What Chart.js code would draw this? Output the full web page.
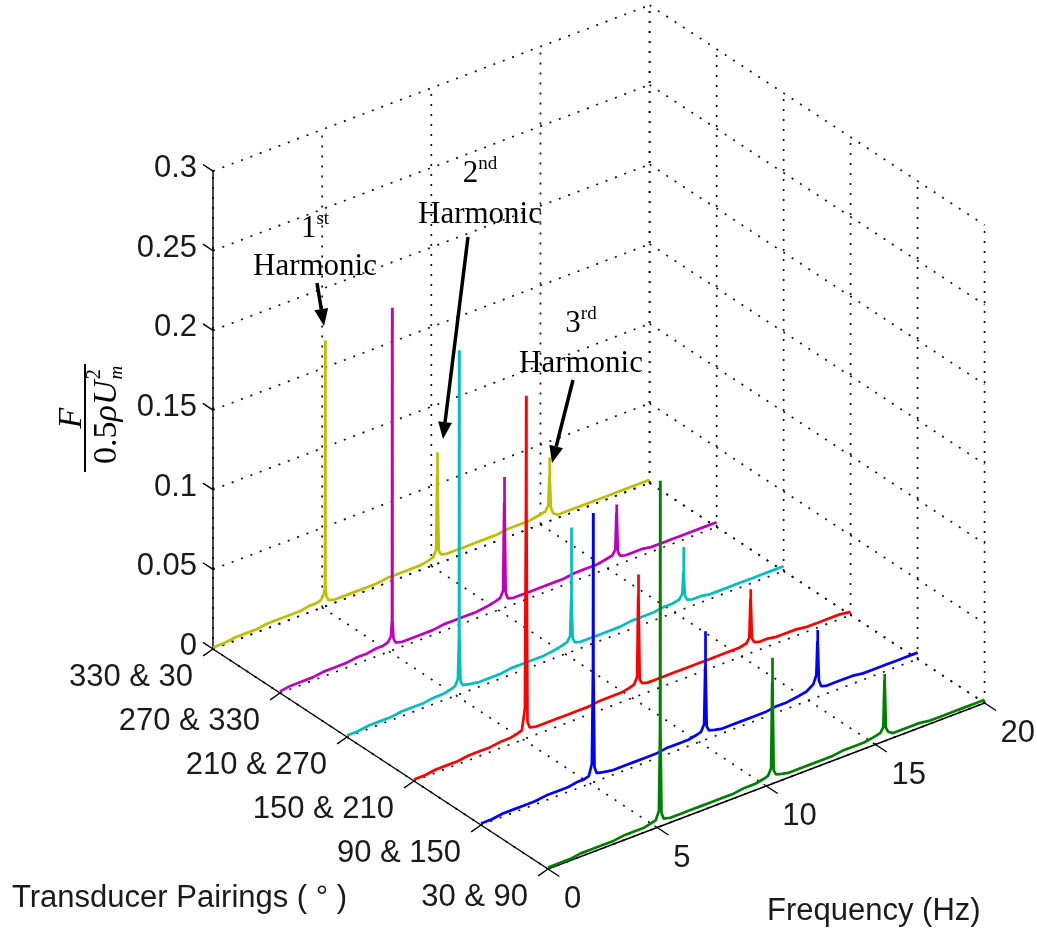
<!DOCTYPE html>
<html lang="en">
<head>
<meta charset="UTF-8">
<title>Force spectra by transducer pairing</title>
<script src="https://cdn.jsdelivr.net/npm/chart.js"></script>
<style>
  html, body { margin: 0; padding: 0; background: #fff; }
  #wrap { width: 1037px; height: 932px; }
</style>
</head>
<body>
<div id="wrap"><canvas id="spectra" width="1037" height="932"></canvas></div>
<script>
// shared frequency samples (Hz), denser around the three harmonics
const freqHz = [0, 0.5, 1, 1.5, 2, 2.5, 3, 3.5, 4, 4.4, 4.7,
  4.94, 5.08, 5.13, 5.14, 5.15, 5.2, 5.3,
  5.6, 6, 6.5, 7, 7.5, 8, 8.5, 9, 9.5, 9.85,
  10.08, 10.22, 10.27, 10.28, 10.29, 10.34, 10.44,
  10.7, 11, 11.5, 12, 12.5, 13, 13.5, 14, 14.5, 14.9,
  15.22, 15.36, 15.41, 15.42, 15.43, 15.48, 15.58,
  15.8, 16.2, 16.6, 17, 17.5, 18, 18.5, 19, 19.5, 20];

// back row first, front row last
const pairings = ['330 & 30', '270 & 330', '210 & 270', '150 & 210', '90 & 150', '30 & 90'];
const pairColors = ['#bfbf00', '#bf00bf', '#00bfbf', '#ff0000', '#0000ff', '#008000'];

// F / (0.5 rho Um^2), one value per freqHz sample
const force330_30 = [0.001, 0.001, 0.002, 0.002, 0.002, 0.003, 0.003, 0.003, 0.003, 0.004, 0.004,
  0.005, 0.008, 0.012, 0.167, 0.012, 0.006, 0.003,
  0.002, 0.002, 0.002, 0.002, 0.002, 0.003, 0.003, 0.003, 0.003, 0.004,
  0.005, 0.009, 0.056, 0.070, 0.056, 0.008, 0.005,
  0.004, 0.004, 0.004, 0.004, 0.004, 0.004, 0.005, 0.005, 0.005, 0.006,
  0.007, 0.010, 0.028, 0.040, 0.028, 0.008, 0.004,
  0.002, 0.002, 0.002, 0.002, 0.002, 0.002, 0.002, 0.002, 0.002, 0.002];
const force270_330 = [0.001, 0.002, 0.002, 0.002, 0.003, 0.003, 0.003, 0.004, 0.004, 0.005, 0.005,
  0.006, 0.009, 0.019, 0.215, 0.019, 0.007, 0.004,
  0.003, 0.003, 0.003, 0.003, 0.004, 0.004, 0.004, 0.004, 0.005, 0.006,
  0.007, 0.011, 0.066, 0.082, 0.066, 0.009, 0.005,
  0.004, 0.004, 0.004, 0.004, 0.004, 0.004, 0.005, 0.005, 0.005, 0.006,
  0.007, 0.010, 0.033, 0.038, 0.033, 0.008, 0.005,
  0.004, 0.004, 0.004, 0.003, 0.003, 0.003, 0.003, 0.003, 0.003, 0.003];
const force210_270 = [0.001, 0.001, 0.002, 0.002, 0.002, 0.003, 0.003, 0.003, 0.004, 0.004, 0.005,
  0.006, 0.010, 0.037, 0.216, 0.037, 0.008, 0.005,
  0.004, 0.003, 0.003, 0.003, 0.004, 0.004, 0.004, 0.004, 0.005, 0.006,
  0.007, 0.010, 0.033, 0.078, 0.033, 0.008, 0.005,
  0.004, 0.004, 0.004, 0.004, 0.004, 0.005, 0.005, 0.005, 0.006, 0.006,
  0.007, 0.010, 0.023, 0.039, 0.023, 0.008, 0.005,
  0.004, 0.004, 0.003, 0.003, 0.003, 0.003, 0.003, 0.003, 0.003, 0.003];
const force150_210 = [0.001, 0.001, 0.002, 0.002, 0.002, 0.003, 0.003, 0.003, 0.004, 0.004, 0.005,
  0.006, 0.019, 0.148, 0.215, 0.148, 0.010, 0.006,
  0.005, 0.005, 0.005, 0.005, 0.005, 0.005, 0.006, 0.006, 0.006, 0.007,
  0.008, 0.012, 0.063, 0.076, 0.063, 0.010, 0.007,
  0.006, 0.006, 0.006, 0.006, 0.006, 0.006, 0.006, 0.006, 0.006, 0.006,
  0.007, 0.010, 0.034, 0.040, 0.034, 0.009, 0.006,
  0.005, 0.005, 0.004, 0.004, 0.004, 0.003, 0.003, 0.003, 0.003, 0.002];
const force90_150 = [0.001, 0.001, 0.002, 0.002, 0.002, 0.002, 0.003, 0.003, 0.003, 0.004, 0.004,
  0.005, 0.012, 0.072, 0.169, 0.072, 0.009, 0.005,
  0.004, 0.003, 0.003, 0.003, 0.003, 0.003, 0.004, 0.004, 0.004, 0.005,
  0.006, 0.010, 0.046, 0.068, 0.046, 0.008, 0.005,
  0.004, 0.003, 0.003, 0.003, 0.003, 0.003, 0.004, 0.004, 0.005, 0.006,
  0.009, 0.014, 0.035, 0.042, 0.035, 0.010, 0.006,
  0.005, 0.005, 0.005, 0.005, 0.004, 0.004, 0.004, 0.004, 0.004, 0.004];
const force30_90 = [0.001, 0.001, 0.001, 0.002, 0.002, 0.002, 0.002, 0.003, 0.003, 0.003, 0.004,
  0.005, 0.010, 0.060, 0.217, 0.060, 0.008, 0.004,
  0.003, 0.003, 0.003, 0.003, 0.003, 0.003, 0.003, 0.004, 0.004, 0.005,
  0.006, 0.010, 0.064, 0.079, 0.064, 0.008, 0.005,
  0.004, 0.003, 0.003, 0.003, 0.003, 0.003, 0.004, 0.004, 0.004, 0.005,
  0.006, 0.009, 0.038, 0.042, 0.038, 0.008, 0.005,
  0.003, 0.003, 0.003, 0.003, 0.002, 0.002, 0.002, 0.002, 0.002, 0.002];
const forceByPair = [force330_30, force270_330, force210_270, force150_210, force90_150, force30_90];

const freqTicks = [0, 5, 10, 15, 20];
const forceTicks = [0, 0.05, 0.1, 0.15, 0.2, 0.25, 0.3];
const forceTickLabels = ['0', '0.05', '0.1', '0.15', '0.2', '0.25', '0.3'];

const fMax = 20, zMax = 0.3, pMax = pairings.length - 1;

// oblique 3D view: (frequency, pairing index, force) -> scale values
const view = { ox: 213, oy: 649, fx: 21.83, fy: -8.3, px: 67, py: 44, zy: -1593 };
function project(f, p, z) {
  return {
    x: view.ox + f * view.fx + p * view.px,
    y: view.oy + f * view.fy + p * view.py + z * view.zy
  };
}

const datasets = pairings.map((name, p) => ({
  label: name,
  data: freqHz.map((f, i) => project(f, p, forceByPair[p][i])),
  borderColor: pairColors[p],
  borderWidth: 2.7,
  borderJoinStyle: 'bevel',
  pointRadius: 0,
  showLine: true,
  tension: 0,
  fill: false,
  order: pMax - p
}));

function px(chart, f, p, z) {
  const q = project(f, p, z);
  return [chart.scales.x.getPixelForValue(q.x), chart.scales.y.getPixelForValue(q.y)];
}
function seg(chart, a, b) {
  const ctx = chart.ctx;
  const s = px(chart, a[0], a[1], a[2]), e = px(chart, b[0], b[1], b[2]);
  ctx.beginPath(); ctx.moveTo(s[0], s[1]); ctx.lineTo(e[0], e[1]); ctx.stroke();
}

const boxPlugin = {
  id: 'box3d',
  beforeDatasetsDraw(chart) {
    const ctx = chart.ctx;
    ctx.save();
    // dotted grid on back wall, right wall and floor
    ctx.strokeStyle = '#111';
    ctx.lineWidth = 1.7;
    ctx.setLineDash([2, 8]);
    forceTicks.forEach(z => seg(chart, [0, 0, z], [fMax, 0, z]));
    freqTicks.forEach(f => seg(chart, [f, 0, 0], [f, 0, zMax]));
    forceTicks.forEach(z => seg(chart, [fMax, 0, z], [fMax, pMax, z]));
    pairings.forEach((_, p) => seg(chart, [fMax, p, 0], [fMax, p, zMax]));
    freqTicks.forEach(f => seg(chart, [f, 0, 0], [f, pMax, 0]));
    pairings.forEach((_, p) => seg(chart, [0, p, 0], [fMax, p, 0]));
    // solid axes
    ctx.setLineDash([]);
    ctx.lineWidth = 1.4;
    ctx.strokeStyle = '#000';
    seg(chart, [0, 0, 0], [0, 0, zMax]);
    seg(chart, [0, 0, 0], [0, pMax, 0]);
    seg(chart, [0, pMax, 0], [fMax, pMax, 0]);
    forceTicks.forEach(z => seg(chart, [0, 0, z], [0, -0.15, z]));
    freqTicks.forEach(f => seg(chart, [f, pMax - 0.04, 0], [f, pMax + 0.17, 0]));
    pairings.forEach((_, p) => seg(chart, [0, p, 0], [-0.45, p, -0.002]));
    ctx.restore();
  },
  afterDraw(chart) {
    const ctx = chart.ctx;
    ctx.save();
    ctx.fillStyle = '#1a1a1a';
    ctx.font = '31px "Liberation Sans", Arial, sans-serif';
    ctx.textBaseline = 'alphabetic';
    ctx.textAlign = 'right';
    forceTicks.forEach((z, i) => {
      const q = px(chart, 0, 0, z);
      ctx.fillText(forceTickLabels[i], q[0] - 16, q[1] + 6);
    });
    pairings.forEach((name, p) => {
      const q = px(chart, 0, p, 0);
      ctx.fillText(name, q[0] - 20, q[1] + 37);
    });
    ctx.textAlign = 'left';
    freqTicks.forEach(f => {
      const q = px(chart, f, pMax, 0);
      ctx.fillText(String(f), q[0] + 16, q[1] + 39);
    });
    ctx.fillText('Transducer Pairings ( \u00b0 )', 12, 907);
    ctx.fillText('Frequency (Hz)', 767, 920);

    drawForceTitle(ctx);
    harmonicNotes.forEach(n => drawNote(ctx, n));
    ctx.restore();
  }
};

function drawForceTitle(ctx) {
  ctx.save();
  ctx.translate(85, 418);
  ctx.rotate(-Math.PI / 2);
  ctx.fillStyle = '#000';
  ctx.strokeStyle = '#000';
  ctx.lineWidth = 2;
  ctx.beginPath(); ctx.moveTo(-54, 0); ctx.lineTo(54, 0); ctx.stroke();
  ctx.textBaseline = 'alphabetic';
  ctx.textAlign = 'center';
  ctx.font = 'italic 34px "Liberation Serif", serif';
  ctx.fillText('F', 0, -4);
  ctx.textAlign = 'left';
  const up = '34px "Liberation Serif", serif';
  const it = 'italic 34px "Liberation Serif", serif';
  const smIt = 'italic 19px "Liberation Serif", serif';
  const sm = '21px "Liberation Serif", serif';
  ctx.font = up; const w1 = ctx.measureText('0.5').width;
  ctx.font = it; const w2 = ctx.measureText('\u03c1U').width;
  ctx.font = sm; const w3 = ctx.measureText('2').width;
  let x = -(w1 + w2 + w3) / 2 + 1;
  const base = 31;
  ctx.font = up; ctx.fillText('0.5', x, base); x += w1;
  ctx.font = it; ctx.fillText('\u03c1U', x, base); x += w2 + 1;
  ctx.font = sm; ctx.fillText('2', x, base - 16);
  ctx.font = smIt; ctx.fillText('m', x, base + 6);
  ctx.restore();
}

// annotation text and arrows (canvas pixels)
const harmonicNotes = [
  { num: '1', sup: 'st', cx: 315, numBase: 237, wordBase: 275, tail: [317, 283], tip: [324, 326] },
  { num: '2', sup: 'nd', cx: 480, numBase: 182, wordBase: 223, tail: [468, 237], tip: [443, 439] },
  { num: '3', sup: 'rd', cx: 581, numBase: 332, wordBase: 372, tail: [573, 380], tip: [552, 463] }
];

function drawNote(ctx, n) {
  ctx.save();
  ctx.fillStyle = '#000';
  ctx.strokeStyle = '#000';
  ctx.textBaseline = 'alphabetic';
  const big = '31px "Liberation Serif", serif';
  const small = '19px "Liberation Serif", serif';
  ctx.font = big; const wn = ctx.measureText(n.num).width;
  ctx.font = small; const ws = ctx.measureText(n.sup).width;
  let x = n.cx - (wn + ws) / 2;
  ctx.textAlign = 'left';
  ctx.font = big; ctx.fillText(n.num, x, n.numBase);
  ctx.font = small; ctx.fillText(n.sup, x + wn, n.numBase - 13);
  ctx.textAlign = 'center';
  ctx.font = big; ctx.fillText('Harmonic', n.cx, n.wordBase);
  // arrow
  const [x0, y0] = n.tail, [x1, y1] = n.tip;
  const a = Math.atan2(y1 - y0, x1 - x0), head = 17, half = 7;
  const bx = x1 - head * Math.cos(a), by = y1 - head * Math.sin(a);
  ctx.lineWidth = 3.5;
  ctx.beginPath(); ctx.moveTo(x0, y0); ctx.lineTo(bx, by); ctx.stroke();
  ctx.beginPath();
  ctx.moveTo(x1, y1);
  ctx.lineTo(bx + half * Math.sin(a), by - half * Math.cos(a));
  ctx.lineTo(bx - half * Math.sin(a), by + half * Math.cos(a));
  ctx.closePath(); ctx.fill();
  ctx.restore();
}

new Chart(document.getElementById('spectra'), {
  type: 'scatter',
  data: { datasets: datasets },
  options: {
    responsive: false,
    animation: false,
    events: [],
    layout: { padding: 0 },
    scales: {
      x: { type: 'linear', min: 0, max: 1037, display: false },
      y: { type: 'linear', min: 0, max: 932, reverse: true, display: false }
    },
    plugins: { legend: { display: false }, tooltip: { enabled: false } }
  },
  plugins: [boxPlugin]
});
</script>
</body>
</html>
